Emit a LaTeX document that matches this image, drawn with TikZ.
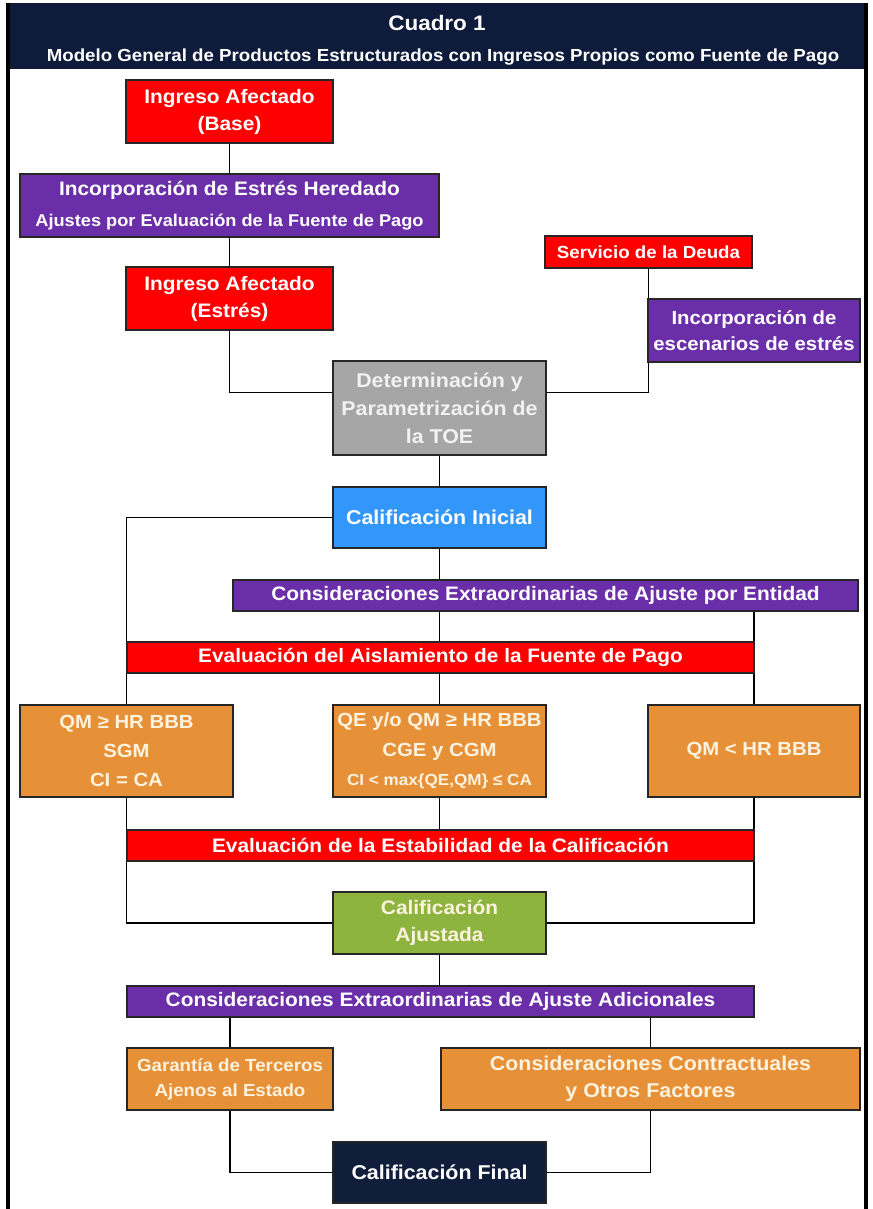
\documentclass[tikz,border=0pt]{standalone}
\usepackage{fontspec}
\setmainfont{Liberation Sans}[FakeStretch=1.07]
\usetikzlibrary{backgrounds}
\definecolor{hdr}{RGB}{14,27,58}
\definecolor{cred}{RGB}{255,0,0}
\definecolor{cpurple}{RGB}{106,46,168}
\definecolor{cblue}{RGB}{51,150,250}
\definecolor{cgrey}{RGB}{166,166,166}
\definecolor{cgreen}{RGB}{141,180,62}
\definecolor{corange}{RGB}{230,145,56}
\definecolor{cnavy}{RGB}{16,30,60}
\definecolor{cream}{RGB}{255,242,222}
\definecolor{lightgrey}{RGB}{242,242,242}
\newcommand{\fs}[2]{\fontsize{#1}{#2}\selectfont}
\begin{document}
\begin{tikzpicture}[x=0.75pt,y=-0.75pt,
  span/.style n args={4}{minimum width={(#3-#1)*0.75pt}, minimum height={(#4-#2)*0.75pt},
    at={({(#1+#3)/2},{(#2+#4)/2})}},
  box/.style={draw=black!85, line width=0.9pt, inner sep=0pt, align=center,
    text=white, font=\bfseries\fs{14.625}{20.25}},
  redbox/.style={box, fill=cred},
  purplebox/.style={box, fill=cpurple},
  orangebox/.style={box, fill=corange, text=cream},
  conn/.style={draw=black, line width=1.1pt},
  frame/.style={draw=black, line width=2.4pt}]
\useasboundingbox (0,0) rectangle (872,1209);
% header
\node[fill=hdr, inner sep=0pt, span={8}{3}{866}{69}] (header) {};
\node[text=white, font=\bfseries\fs{15.75}{18}] (title) at (437,23) {Cuadro 1};
\node[text=white, font=\bfseries\fs{13.1}{15}] (subtitle) at (443,57) {Modelo General de Productos Estructurados con Ingresos Propios como Fuente de Pago};
\draw[frame] (8,3) -- (8,1209);
\draw[frame] (866,3) -- (866,1209);
% boxes
\node[redbox, span={126}{80}{333}{143}] (base) {Ingreso Afectado\\(Base)};
\node[purplebox, span={20}{174}{439}{237}] (hered) {Incorporación de Estrés Heredado\\[3pt]{\fs{12.75}{15}Ajustes por Evaluación de la Fuente de Pago}};
\node[redbox, span={126}{267}{333}{330}] (estres) {Ingreso Afectado\\(Estrés)};
\node[redbox, font=\bfseries\fs{13.125}{15}, span={545}{236}{752}{268}] (serv) {Servicio de la Deuda};
\node[purplebox, font=\bfseries\fs{14.25}{19.5}, span={648}{299}{860}{362}] (esc) {Incorporación de\\escenarios de estrés};
\node[box, fill=cgrey, text=lightgrey, font=\bfseries\fs{15}{21}, span={333}{361}{546}{455}] (toe) {Determinación y\\Parametrización de\\la TOE};
\node[box, fill=cblue, font=\bfseries\fs{15}{20}, span={333}{487}{546}{548}] (ini) {Calificación Inicial};
\node[purplebox, span={233}{580}{858}{611}] (ent) {Consideraciones Extraordinarias de Ajuste por Entidad};
\node[redbox, span={127}{642}{754}{673}] (ais) {Evaluación del Aislamiento de la Fuente de Pago};
\node[orangebox, font=\bfseries\fs{14.25}{22}, span={20}{705}{233}{797}] (o1) {QM ≥ HR BBB\\SGM\\CI = CA};
\node[orangebox, font=\bfseries\fs{14.25}{22}, span={333}{705}{546}{797}] (o2) {QE y/o QM ≥ HR BBB\\CGE y CGM\\{\fs{12}{22}CI < max\{QE,QM\} ≤ CA}};
\node[orangebox, font=\bfseries\fs{14.25}{22}, span={648}{705}{860}{797}] (o3) {QM < HR BBB};
\node[redbox, span={127}{830}{754}{861}] (est) {Evaluación de la Estabilidad de la Calificación};
\node[box, fill=cgreen, text=cream, span={333}{892}{546}{954}] (aju) {Calificación\\Ajustada};
\node[purplebox, span={127}{986}{754}{1017}] (adi) {Consideraciones Extraordinarias de Ajuste Adicionales};
\node[orangebox, font=\bfseries\fs{13.125}{18.75}, span={127}{1048}{333}{1110}] (gar) {Garantía de Terceros\\Ajenos al Estado};
\node[orangebox, font=\bfseries\fs{15}{20.25}, span={441}{1048}{860}{1110}] (con) {Consideraciones Contractuales\\y Otros Factores};
\node[box, fill=cnavy, font=\bfseries\fs{15}{20}, span={333}{1142}{546}{1203}] (fin) {Calificación Final};
% connectors
\begin{scope}[on background layer]
\fill[white] (0,0) rectangle (872,1209);
\draw[conn] (base.south) -- (base.south |- hered.north);
\draw[conn] (estres.north |- hered.south) -- (estres.north);
\draw[conn] (estres.south) |- ([yshift=-24pt]toe.north west);
\draw[conn] (serv.south) |- ([yshift=-24pt]toe.north east);
\draw[conn] (toe.south) -- (ini.north);
\draw[conn] (ini.west) -| (o1.north);
\draw[conn] (ini.south) -- (ini.south |- ent.north);
\draw[conn] (ini.south |- ent.south) -- (ini.south |- ais.north);
\draw[conn] (o3.north |- ent.south) -- (o3.north);
\draw[conn] (o2.north |- ais.south) -- (o2.north);
\draw[conn] (o1.south) |- (aju.west);
\draw[conn] (o2.south) -- (o2.south |- est.north);
\draw[conn] (o3.south) |- (aju.east);
\draw[conn] (aju.south) -- (aju.south |- adi.north);
\draw[conn] (gar.north |- adi.south) -- (gar.north);
\draw[conn] (con.north |- adi.south) -- (con.north);
\draw[conn] (gar.south) |- (fin.west);
\draw[conn] (con.south) |- (fin.east);
\end{scope}
\end{tikzpicture}
\end{document}
